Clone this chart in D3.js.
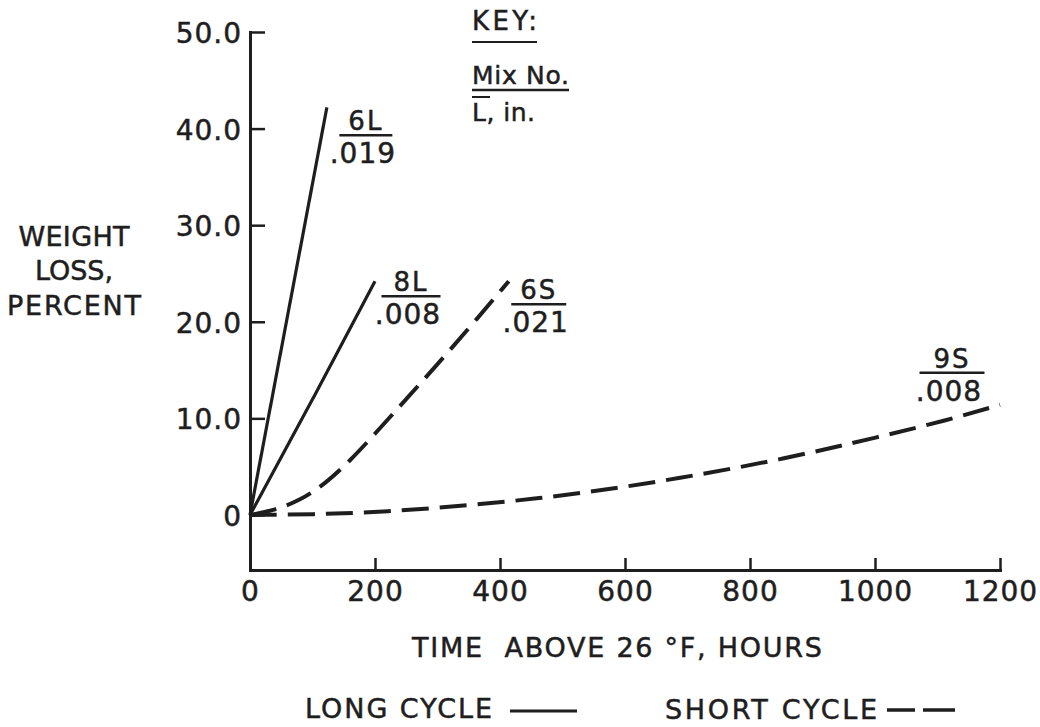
<!DOCTYPE html>
<html>
<head>
<meta charset="utf-8">
<script src="https://cdn.jsdelivr.net/npm/d3@7"></script>
<style>
  body { margin: 0; background: #fff; }
  svg text { font-family: "DejaVu Sans", sans-serif; fill: #1e1e1e; stroke: #1e1e1e; stroke-width: 0.5px; }
</style>
</head>
<body>
<div id="chart"></div>
<script>
// Axis ticks
const xTicks = [0, 200, 400, 600, 800, 1000, 1200];
const yTicks = [0, 10, 20, 30, 40, 50];
const yTickLabels = ["0", "10.0", "20.0", "30.0", "40.0", "50.0"];

// Curves: [hours, weight loss %]
const mix6L = [[0, 0], [123, 42.2]];
const mix8L = [[0, 0], [100, 11.9], [200, 24.2]];
const mix6S = [[0, 0], [40, 0.5], [80, 1.5], [120, 3.2], [160, 5.6], [200, 8.4], [250, 12.0], [300, 15.6], [350, 19.3], [414, 24.2]];
const mix9S = [[0, 0], [100, 0.05], [213, 0.3], [373, 1.1], [530, 2.2], [688, 3.8], [848, 5.7], [1008, 8.1], [1115, 9.8], [1200, 11.4]];

const series = [
    { mix: "6L", len: ".019", cycle: "long", points: mix6L },
    { mix: "8L", len: ".008", cycle: "long", points: mix8L },
    { mix: "6S", len: ".021", cycle: "short", points: mix6S },
    { mix: "9S", len: ".008", cycle: "short", points: mix9S }
];

// label placement relative to the end of each curve (px)
const labelOffsets = {
    "6L": { dx: 39, dy: 28, w: 53 },
    "8L": { dx: 36, dy: 15, w: 59 },
    "6S": { dx: 30, dy: 23, w: 55 },
    "9S": { dx: -48, dy: -32, w: 65 }
};

const ink = "#1e1e1e";
const width = 1040, height = 727;

const svg = d3.select("#chart")
    .append("svg")
    .attr("width", width)
    .attr("height", height);

const x = d3.scaleLinear().domain([0, 1200]).range([250, 1000]);
const y = d3.scaleLinear().domain([-5.7, 50]).range([570, 32]);

// Y axis
const yAxis = svg.append("g")
    .attr("transform", `translate(${x(0)},0)`)
    .call(d3.axisLeft(y)
        .tickValues(yTicks)
        .tickFormat((d, i) => yTickLabels[i])
        .tickSize(-15)
        .tickSizeOuter(0)
        .tickPadding(8));

// X axis
const xAxis = svg.append("g")
    .attr("transform", `translate(0,${y.range()[0]})`)
    .call(d3.axisBottom(x)
        .tickValues(xTicks)
        .tickFormat(d => String(d))
        .tickSize(-12)
        .tickSizeOuter(0)
        .tickPadding(11));

[yAxis, xAxis].forEach(g => {
    g.attr("font-size", null).attr("font-family", null);
    g.select(".domain").attr("stroke", ink).attr("stroke-width", 3).attr("stroke-linecap", "square");
    g.selectAll(".tick line").attr("stroke", ink).attr("stroke-width", 2.5);
    g.selectAll(".tick text")
        .style("font-size", "28px")
        .style("letter-spacing", "1px")
        .attr("fill", ink);
});
yAxis.selectAll(".tick text").attr("dy", "0.38em");

// Curves
const line = d3.line()
    .x(d => x(d[0]))
    .y(d => y(d[1]))
    .curve(d3.curveBasis);

svg.selectAll(".curve")
    .data(series)
    .enter()
    .append("path")
    .attr("class", "curve")
    .attr("d", d => line(d.points))
    .attr("fill", "none")
    .attr("stroke", ink)
    .attr("stroke-width", d => d.cycle === "long" ? 3.2 : 4)
    .attr("stroke-dasharray", d => d.cycle === "long" ? null : "27,11");

// Fraction labels: mix number over mean length
const labels = svg.selectAll(".lab")
    .data(series)
    .enter()
    .append("g")
    .attr("class", "lab")
    .attr("transform", d => {
        const end = d.points[d.points.length - 1];
        const o = labelOffsets[d.mix];
        return `translate(${x(end[0]) + o.dx},${y(end[1]) + o.dy})`;
    });

labels.append("line")
    .attr("x1", d => -labelOffsets[d.mix].w / 2)
    .attr("x2", d => labelOffsets[d.mix].w / 2)
    .attr("stroke", ink)
    .attr("stroke-width", 2.5);

labels.append("text")
    .attr("y", -5)
    .attr("text-anchor", "middle")
    .style("font-size", "26px")
    .style("letter-spacing", "2px")
    .text(d => d.mix);

labels.append("text")
    .attr("x", -3)
    .attr("y", 28)
    .attr("text-anchor", "middle")
    .style("font-size", "28px")
    .style("letter-spacing", "1px")
    .text(d => d.len);

// Key
const key = svg.append("g");
key.append("text").attr("x", 472).attr("y", 30)
    .attr("textLength", 65).attr("lengthAdjust", "spacing")
    .style("font-size", "26px").text("KEY:");
key.append("line").attr("x1", 472).attr("x2", 537).attr("y1", 42).attr("y2", 42)
    .attr("stroke", ink).attr("stroke-width", 2);
key.append("text").attr("x", 472).attr("y", 84)
    .attr("textLength", 97).attr("lengthAdjust", "spacing")
    .style("font-size", "25px").text("Mix No.");
key.append("line").attr("x1", 472).attr("x2", 569).attr("y1", 90).attr("y2", 90)
    .attr("stroke", ink).attr("stroke-width", 2.5);
key.append("text").attr("x", 472).attr("y", 121)
    .attr("textLength", 63).attr("lengthAdjust", "spacing")
    .style("font-size", "25px").text("L, in.");
key.append("line").attr("x1", 472).attr("x2", 490).attr("y1", 97).attr("y2", 97)
    .attr("stroke", ink).attr("stroke-width", 2);

// Y title
const yTitle = [
    { t: "WEIGHT", y: 246, w: 111 },
    { t: "LOSS,", y: 280, w: null },
    { t: "PERCENT", y: 315, w: 134 }
];
const yt = svg.selectAll(".ytitle")
    .data(yTitle)
    .enter()
    .append("text")
    .attr("class", "ytitle")
    .attr("x", 74)
    .attr("y", d => d.y)
    .attr("text-anchor", "middle")
    .style("font-size", "27px")
    .text(d => d.t);
yt.filter(d => d.w).attr("textLength", d => d.w).attr("lengthAdjust", "spacing");

// X title
svg.append("text")
    .attr("x", 412).attr("y", 657)
    .attr("textLength", 410).attr("lengthAdjust", "spacing")
    .style("font-size", "27px")
    .style("white-space", "pre")
    .text("TIME  ABOVE 26 °F, HOURS");

// Cycle legend
svg.append("text")
    .attr("x", 305).attr("y", 718)
    .attr("textLength", 187).attr("lengthAdjust", "spacing")
    .style("font-size", "27px")
    .text("LONG CYCLE");
svg.append("line")
    .attr("x1", 510).attr("x2", 577).attr("y1", 711).attr("y2", 711)
    .attr("stroke", ink).attr("stroke-width", 3);

svg.append("text")
    .attr("x", 665).attr("y", 719)
    .attr("textLength", 212).attr("lengthAdjust", "spacing")
    .style("font-size", "27px")
    .text("SHORT CYCLE");
svg.append("line")
    .attr("x1", 887).attr("x2", 915).attr("y1", 710).attr("y2", 710)
    .attr("stroke", ink).attr("stroke-width", 3.5);
svg.append("line")
    .attr("x1", 923).attr("x2", 955).attr("y1", 710).attr("y2", 710)
    .attr("stroke", ink).attr("stroke-width", 3.5);
</script>
</body>
</html>
